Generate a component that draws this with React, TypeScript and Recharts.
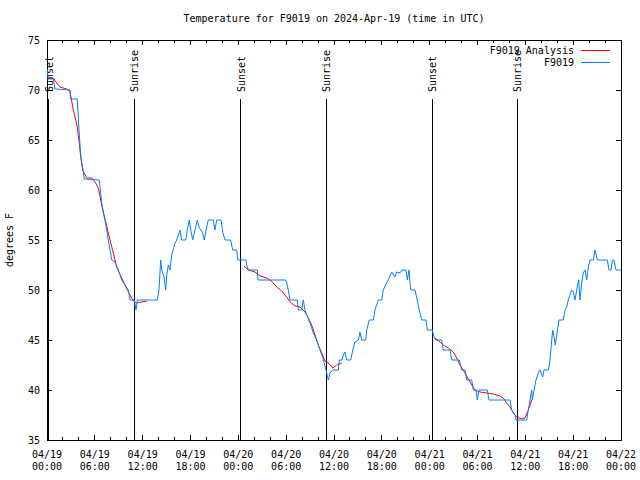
import React from 'react';
import { LineChart, Line, XAxis, YAxis, ReferenceLine, ReferenceArea } from 'recharts';

// hours since 04/19 00:00 UTC, temperature in F
const f9019: [number, number][] = [
  [0.04, 72.1], [0.13, 71.1], [0.79, 71.1], [1.0, 70.1], [2.89, 70.0], [2.95, 69.1], [3.8, 69.1],
  [4.05, 65.5], [4.26, 63.2], [4.48, 62.2], [4.68, 61.1], [6.56, 61.0], [6.86, 58.7], [7.19, 57.3],
  [7.49, 56], [7.69, 55], [8.12, 53], [8.53, 52.8], [8.94, 52], [9.37, 51], [9.78, 50.5], [10.2, 50],
  [10.41, 49], [10.95, 49], [11.16, 48], [11.33, 49], [13.84, 49], [14.05, 50], [14.26, 53],
  [14.39, 52], [14.68, 51.3], [14.89, 50], [15.02, 51.5], [15.22, 52.5], [15.43, 52], [15.64, 53.5],
  [16.06, 54.7], [16.27, 55], [16.68, 56], [16.89, 55], [17.4, 55], [17.6, 56], [17.85, 57],
  [18.03, 56], [18.28, 55], [18.56, 56], [18.85, 57], [19.1, 56.2], [19.48, 55.8], [19.73, 55],
  [20.03, 56.3], [20.23, 57], [20.86, 57], [21.07, 56], [21.29, 57], [21.83, 57], [22.04, 55.8],
  [22.33, 55], [23.04, 55], [23.29, 54], [23.8, 54], [23.92, 53], [24.96, 53], [25.05, 52.5],
  [25.25, 52], [26.38, 52], [26.47, 51], [29.94, 51], [30.07, 50.7], [30.27, 50], [30.48, 49],
  [31.4, 49], [31.52, 48], [31.95, 48], [32.15, 49], [32.36, 48], [32.58, 47.5], [32.99, 46.7],
  [33.4, 45.7], [33.83, 45], [34.24, 44], [34.58, 43.3], [35.0, 42], [35.29, 41], [35.5, 41.7],
  [35.84, 42], [36.54, 42], [36.67, 43], [37.0, 43], [37.17, 43.5], [37.38, 43.8], [37.59, 43],
  [38.1, 43], [38.35, 44], [38.63, 44.8], [39.05, 45], [39.26, 45.8], [39.47, 45], [39.98, 45],
  [40.1, 46], [40.43, 47], [40.93, 47], [41.14, 48], [41.56, 49], [41.98, 49], [42.18, 50],
  [42.61, 50.7], [42.81, 51], [43.24, 51.8], [43.65, 51.3], [43.86, 51.8], [44.28, 51.7],
  [44.49, 52], [45.03, 52], [45.2, 51], [45.41, 52], [45.62, 50], [46.16, 50], [46.38, 49.2],
  [46.7, 48], [47.0, 47], [47.54, 47], [47.7, 46], [48.33, 46], [48.46, 45.5], [48.76, 45],
  [49.51, 45], [49.71, 44], [50.55, 44], [50.77, 43], [51.72, 43], [52.02, 42], [52.43, 42],
  [52.65, 41], [53.27, 41], [53.48, 40], [53.81, 40], [53.98, 39], [54.19, 40], [55.23, 40],
  [55.44, 39], [58.08, 39], [58.29, 38], [58.71, 37.5], [58.83, 37], [60.17, 37], [60.37, 38],
  [60.59, 39], [60.8, 40], [60.87, 39], [61.09, 40], [61.34, 41], [61.63, 41.7], [61.84, 42],
  [62.18, 41.3], [62.34, 42], [62.88, 42], [63.1, 43], [63.31, 45], [63.43, 46], [63.6, 45.3],
  [63.76, 44.5], [63.94, 45.5], [64.22, 47], [64.76, 47], [64.98, 48], [65.19, 48.3], [65.39, 49],
  [65.82, 50], [66.02, 49.8], [66.23, 49], [66.44, 50], [66.7, 51], [66.86, 49], [67.07, 50.7],
  [67.27, 51.7], [67.49, 52], [67.7, 51], [67.9, 52.3], [68.11, 53], [68.53, 53], [68.74, 54],
  [69.03, 53], [70.28, 53], [70.5, 52], [70.75, 52], [70.91, 53], [71.12, 53], [71.37, 52], [72.0, 52],
];

const analysisNight1: [number, number][] = [
  [0.16, 71.3], [0.79, 71.2], [1.22, 70.7], [1.63, 70.3], [2.47, 70.1], [2.89, 69.8], [3.3, 68],
  [3.6, 67], [3.8, 66.3], [4.05, 64.7], [4.23, 63.3], [4.48, 62], [4.98, 61.2], [5.61, 61.2],
  [6.02, 60.8], [6.44, 60.2], [6.56, 59.7], [6.99, 58], [7.4, 56.7], [7.9, 55], [8.32, 53.7],
  [8.74, 52.3], [9.37, 51.2], [9.91, 50.3], [10.41, 49.5], [10.83, 48.9], [11.25, 48.7],
  [11.88, 48.8], [12.51, 48.9],
];

const analysisNight2: [number, number][] = [
  [24.71, 52.4], [25.25, 52], [26.09, 51.8], [26.72, 51.4], [27.56, 51.2], [27.97, 51],
  [28.39, 50.7], [28.81, 50.3], [29.44, 49.9], [30.07, 49.3], [30.48, 48.8], [31.11, 48.4],
  [31.74, 48.3], [32.36, 47.8], [32.78, 47.2], [33.2, 46.5], [33.62, 45.5], [34.03, 44.5],
  [34.46, 43.7], [34.87, 42.9], [35.29, 42.7], [35.84, 42.2], [36.34, 42.5], [36.97, 42.7],
];

const analysisNight3: [number, number][] = [
  [48.67, 45.2], [49.3, 44.8], [49.71, 44.5], [50.34, 44.2], [50.97, 43.8], [51.39, 43.2],
  [51.81, 42.5], [52.43, 41.7], [53.06, 40.8], [53.69, 40], [54.32, 39.8], [55.16, 39.7],
  [55.98, 39.6], [56.82, 39.4], [57.24, 39.2], [57.66, 38.7], [58.08, 38.3], [58.49, 37.7],
  [58.92, 37.3], [59.54, 37.1], [59.96, 37.2], [60.37, 38], [60.8, 39],
];

const sunHours = [0.25, 10.95, 24.3, 35.04, 48.33, 59.0];
const sunLabels = ['Sunset', 'Sunrise', 'Sunset', 'Sunrise', 'Sunset', 'Sunrise'];

const xTicks = [0, 2, 4, 6, 8, 10, 12, 14, 16, 18, 20, 22, 24, 26, 28, 30, 32, 34, 36, 38, 40, 42, 44, 46, 48, 50, 52, 54, 56, 58, 60, 62, 64, 66, 68, 70, 72];
const majorHours = [0, 6, 12, 18, 24, 30, 36, 42, 48, 54, 60, 66, 72];
const xTickDates = ['04/19', '04/19', '04/19', '04/19', '04/20', '04/20', '04/20', '04/20', '04/21', '04/21', '04/21', '04/21', '04/22'];
const xTickTimes = ['00:00', '06:00', '12:00', '18:00', '00:00', '06:00', '12:00', '18:00', '00:00', '06:00', '12:00', '18:00', '00:00'];
const yTicks = [35, 40, 45, 50, 55, 60, 65, 70, 75];

const toRows = (pts: [number, number][]) => pts.map(([h, t]) => ({ h, t }));

const FONT = '"DejaVu Sans Mono", monospace';
const TOP = 40;
const BOTTOM = 440;
const LEFT = 47;
const RIGHT = 621;

const XTick = (props: any) => {
  const { x, payload } = props;
  const idx = majorHours.indexOf(payload.value);
  const len = idx >= 0 ? 5 : 3;
  return (
    <g>
      <line x1={x} x2={x} y1={BOTTOM} y2={BOTTOM - len} stroke="#000" shapeRendering="crispEdges" />
      <line x1={x} x2={x} y1={TOP} y2={TOP + len} stroke="#000" shapeRendering="crispEdges" />
      {idx >= 0 && (
        <text textAnchor="middle" fontFamily={FONT} fontSize={10} fill="#000">
          <tspan x={x} y={458}>{xTickDates[idx]}</tspan>
          <tspan x={x} y={470}>{xTickTimes[idx]}</tspan>
        </text>
      )}
    </g>
  );
};

const YTick = (props: any) => {
  const { y, payload } = props;
  return (
    <g>
      <line x1={LEFT} x2={LEFT + 5} y1={y} y2={y} stroke="#000" shapeRendering="crispEdges" />
      <line x1={RIGHT} x2={RIGHT - 5} y1={y} y2={y} stroke="#000" shapeRendering="crispEdges" />
      <text x={40} y={y + 3.5} textAnchor="end" fontFamily={FONT} fontSize={10} fill="#000">
        {payload.value}
      </text>
    </g>
  );
};

const sunLabel = (text: string) => (props: any) => {
  const vb = props.viewBox || {};
  const x = vb.x + 4;
  const y = vb.y - 7;
  return (
    <text x={x} y={y} transform={`rotate(-90 ${x} ${y})`} fontFamily={FONT} fontSize={10} fill="#000">
      {text}
    </text>
  );
};

export default function App() {
  return (
    <div style={{ position: 'absolute', left: 0, top: 0, width: 640, height: 480, background: '#fff' }}>
      <LineChart width={640} height={480} margin={{ top: 40, right: 19, bottom: 0, left: 0 }}>
        <XAxis
          dataKey="h"
          type="number"
          domain={[0, 72]}
          ticks={xTicks}
          interval={0}
          height={40}
          tickLine={false}
          axisLine={false}
          tick={<XTick />}
          allowDataOverflow
        />
        <YAxis
          type="number"
          domain={[35, 75]}
          ticks={yTicks}
          interval={0}
          width={47}
          tickLine={false}
          axisLine={false}
          tick={<YTick />}
          allowDataOverflow
        />
        <ReferenceArea x1={0} x2={72} y1={35} y2={75} fill="none" stroke="#000" strokeWidth={1} shapeRendering="crispEdges" />
        {sunHours.map((h, i) => (
          <ReferenceLine
            key={`sun-${i}`}
            segment={[{ x: h, y: 35 }, { x: h, y: 69.1 }]}
            stroke="#000"
            strokeWidth={1}
            shapeRendering="crispEdges"
            label={sunLabel(sunLabels[i])}
          />
        ))}
        <Line data={toRows(analysisNight1)} dataKey="t" type="linear" stroke="#ff0000" strokeWidth={1} dot={false} activeDot={false} isAnimationActive={false} />
        <Line data={toRows(analysisNight2)} dataKey="t" type="linear" stroke="#ff0000" strokeWidth={1} dot={false} activeDot={false} isAnimationActive={false} />
        <Line data={toRows(analysisNight3)} dataKey="t" type="linear" stroke="#ff0000" strokeWidth={1} dot={false} activeDot={false} isAnimationActive={false} />
        <Line data={toRows(f9019)} dataKey="t" type="linear" stroke="#0080ff" strokeWidth={1} dot={false} activeDot={false} isAnimationActive={false} />
      </LineChart>
      <svg width={640} height={480} style={{ position: 'absolute', left: 0, top: 0, pointerEvents: 'none' }}>
        <text x={334} y={22} textAnchor="middle" fontFamily={FONT} fontSize={10} fill="#000">
          Temperature for F9019 on 2024-Apr-19 (time in UTC)
        </text>
        <text x={13} y={240} textAnchor="middle" transform="rotate(-90 13 240)" fontFamily={FONT} fontSize={10} fill="#000">
          degrees F
        </text>
        <text x={574} y={53.5} textAnchor="end" fontFamily={FONT} fontSize={10} fill="#000">F9019 Analysis</text>
        <line x1={581} x2={610} y1={50} y2={50} stroke="#ff0000" strokeWidth={1} shapeRendering="crispEdges" />
        <text x={574} y={66} textAnchor="end" fontFamily={FONT} fontSize={10} fill="#000">F9019</text>
        <line x1={581} x2={610} y1={62} y2={62} stroke="#0080ff" strokeWidth={1} shapeRendering="crispEdges" />
      </svg>
    </div>
  );
}
